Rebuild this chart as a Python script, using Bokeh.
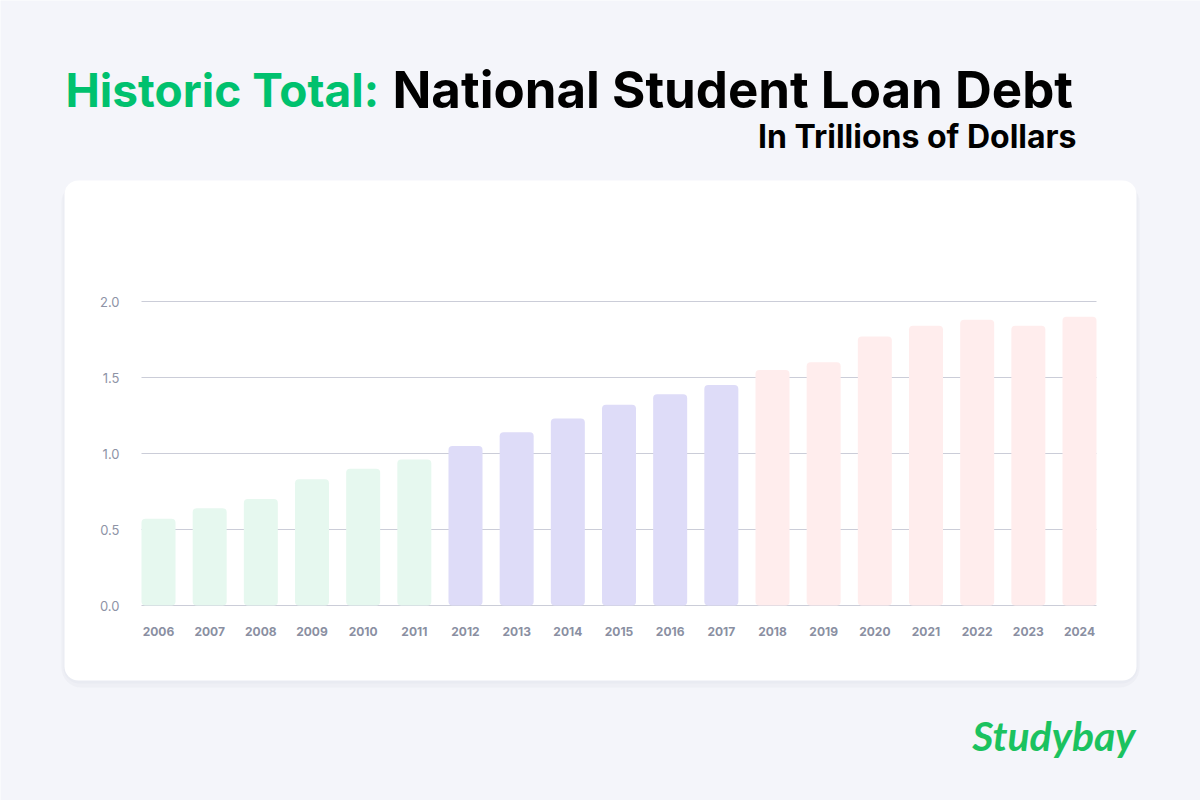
from bokeh.plotting import figure
from bokeh.models import Range1d, FixedTicker, Label, BoxAnnotation, PrintfTickFormatter, ColumnDataSource
from bokeh.embed import file_html
from bokeh.resources import INLINE

# ---------------- data ----------------
years = ["2006", "2007", "2008", "2009", "2010", "2011", "2012", "2013", "2014", "2015",
         "2016", "2017", "2018", "2019", "2020", "2021", "2022", "2023", "2024"]
debt = [0.57, 0.64, 0.70, 0.83, 0.90, 0.96, 1.05, 1.14, 1.23, 1.32,
        1.39, 1.45, 1.55, 1.60, 1.77, 1.84, 1.88, 1.84, 1.90]
groups = ["early"] * 6 + ["mid"] * 6 + ["late"] * 7
group_colors = {"early": "#E6F8EF", "mid": "#DEDCF8", "late": "#FFEDED"}
y_ticks = [0.0, 0.5, 1.0, 1.5, 2.0]
title_green = "Historic Total:"
title_black = "National Student Loan Debt"
subtitle = "In Trillions of Dollars"
brand = "Studybay"

# ---------------- layout geometry (canvas pixels) ----------------
W, H = 1200, 800
PL, PR, PT, PB = 141, 1096, 301, 605      # plotting area edges
BAR_W = 0.6645
n = len(years)
bar_lo, bar_hi = -BAR_W / 2, n - 1 + BAR_W / 2
px_x = (PR - PL) / (bar_hi - bar_lo)
px_y = (PB - PT) / (max(y_ticks) - min(y_ticks))
x_start = bar_lo - PL / px_x
x_end = x_start + W / px_x
y_start = -(H - PB) / px_y
y_end = y_start + H / px_y


def dx(X):
    return x_start + X / px_x


def dy(Y):
    return y_start + (H - Y) / px_y


src = ColumnDataSource(dict(
    x=list(range(n)), top=debt, year=years,
    color=[group_colors[g] for g in groups],
))

p = figure(width=W, height=H, x_range=Range1d(x_start, x_end), y_range=Range1d(y_start, y_end),
           output_backend="svg", toolbar_location=None,
           min_border=0, min_border_left=0, min_border_right=0, min_border_top=0, min_border_bottom=0,
           background_fill_color="#F4F5FA", border_fill_color="#F4F5FA", outline_line_color=None)

# card shadow + card
shadow = BoxAnnotation(left=dx(61), right=dx(1139), top=dy(182), bottom=dy(687),
                       fill_color="#E9EBF2", fill_alpha=0.6, line_color=None,
                       border_radius=20, level="image")
shadow2 = BoxAnnotation(left=dx(63), right=dx(1137), top=dy(181), bottom=dy(683),
                        fill_color="#E6E8F0", fill_alpha=0.6, line_color=None,
                        border_radius=16, level="image")
card = BoxAnnotation(left=dx(64), right=dx(1136), top=dy(180), bottom=dy(680),
                     fill_color="#FFFFFF", fill_alpha=1.0, line_color=None,
                     border_radius=14, level="image")
p.add_layout(shadow)
p.add_layout(shadow2)
p.add_layout(card)

# grid lines limited to the bar area
p.xgrid.visible = False
p.ygrid.visible = False
p.segment(x0=bar_lo, x1=bar_hi, y0=y_ticks, y1=y_ticks, line_color="#CBCDD8", line_width=1)

p.vbar(x="x", top="top", bottom=0, width=BAR_W, fill_color="color", line_color=None,
       border_radius=4, source=src)

# y axis
p.yaxis.fixed_location = bar_lo
p.yaxis.ticker = FixedTicker(ticks=y_ticks)
p.yaxis.formatter = PrintfTickFormatter(format="%.1f")
p.yaxis.axis_line_color = None
p.yaxis.major_tick_line_color = None
p.yaxis.minor_tick_line_color = None
p.yaxis.major_label_standoff = 16
p.yaxis.major_label_text_font = "Inter"
p.yaxis.major_label_text_font_size = "13px"
p.yaxis.major_label_text_color = "#8E93A6"

# x axis
p.xaxis.fixed_location = 0
p.xaxis.ticker = FixedTicker(ticks=list(range(n)))
p.xaxis.major_label_overrides = {i: y for i, y in enumerate(years)}
p.xaxis.axis_line_color = None
p.xaxis.major_tick_line_color = None
p.xaxis.minor_tick_line_color = None
p.xaxis.major_label_standoff = 15
p.xaxis.major_label_text_font = "Inter"
p.xaxis.major_label_text_font_style = "bold"
p.xaxis.major_label_text_font_size = "12px"
p.xaxis.major_label_text_color = "#8A8FA2"

# titles
p.add_layout(Label(x=dx(65), y=dy(89), text=title_green, text_font="Inter", text_font_style="bold",
                   text_font_size="46px", text_color="#00C16E", text_baseline="alphabetic"))
p.add_layout(Label(x=dx(392), y=dy(89), text=title_black, text_font="Inter", text_font_style="bold",
                   text_font_size="51px", text_color="#000000", text_baseline="alphabetic"))
p.add_layout(Label(x=dx(1076), y=dy(136), text=subtitle, text_font="Inter", text_font_style="bold",
                   text_font_size="32px", text_color="#000000", text_align="right",
                   text_baseline="alphabetic"))
p.add_layout(Label(x=dx(1135), y=dy(735), text=brand, text_font="Lato", text_font_style="bold italic",
                   text_font_size="41px", text_color="#1BC25F", text_align="right",
                   text_baseline="alphabetic"))

html = file_html(p, INLINE)
open("out.html", "w").write(html)
